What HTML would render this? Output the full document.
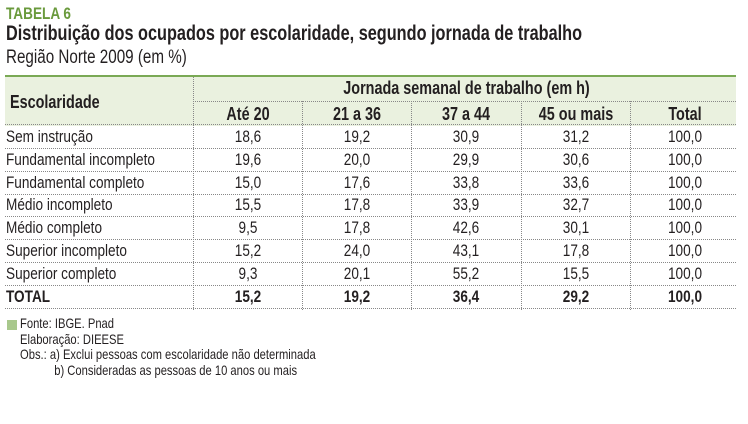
<!DOCTYPE html>
<html><head><meta charset="utf-8"><style>
body{margin:0;width:748px;height:424px;background:#fff;position:relative;overflow:hidden;font-family:"Liberation Sans",sans-serif;color:#231f20}
.a{position:absolute;white-space:nowrap;transform:scaleX(0.8);transform-origin:0 0}
.hl{position:absolute;border-top:1px dotted #888;height:0}
.vl{position:absolute;border-left:1px dotted #888;width:0}
.c{position:absolute;width:110px;text-align:center;font-size:17px;white-space:nowrap;transform:scaleX(0.8);transform-origin:50% 0}
</style></head><body>
<div class="a" style="left:6px;top:4px;font-size:17px;font-weight:bold;color:#6a9a3c">TABELA 6</div>
<div class="a" style="left:6px;top:22px;font-size:21px;font-weight:bold;transform:scaleX(0.775)">Distribuição dos ocupados por escolaridade, segundo jornada de trabalho</div>
<div class="a" style="left:6px;top:47px;font-size:19px">Região Norte 2009 (em %)</div>
<div style="position:absolute;left:5px;top:75px;width:731px;height:49px;background:#eaf1df;border-top:2px solid #7aa955"></div>
<div class="a" style="left:10px;top:92px;font-size:18px;font-weight:bold">Escolaridade</div>
<div class="c" style="left:193px;width:547px;top:78px;font-size:18px;font-weight:bold">Jornada semanal de trabalho (em h)</div>
<div class="hl" style="left:193px;width:543px;top:101px"></div>
<div class="vl" style="left:193px;top:77px;height:233px"></div>
<div class="vl" style="left:302px;top:101px;height:209px"></div>
<div class="vl" style="left:411px;top:101px;height:209px"></div>
<div class="vl" style="left:521px;top:101px;height:209px"></div>
<div class="vl" style="left:630px;top:101px;height:209px"></div>
<div id="rows"></div>
<div style="position:absolute;left:7px;top:320px;width:10px;height:10px;background:#a8c88c"></div>
<div class="a" style="left:20px;top:316px;font-size:14px;line-height:15.5px">Fonte: IBGE. Pnad<br>Elaboração: DIEESE<br>Obs.: a) Exclui pessoas com escolaridade não determinada<br>&nbsp;&nbsp;&nbsp;&nbsp;&nbsp;&nbsp;&nbsp;&nbsp;&nbsp;&nbsp;&nbsp;b) Consideradas as pessoas de 10 anos ou mais</div>
<script>
var rows=[["Sem instrução","18,6","19,2","30,9","31,2","100,0"],["Fundamental incompleto","19,6","20,0","29,9","30,6","100,0"],["Fundamental completo","15,0","17,6","33,8","33,6","100,0"],["Médio incompleto","15,5","17,8","33,9","32,7","100,0"],["Médio completo","9,5","17,8","42,6","30,1","100,0"],["Superior incompleto","15,2","24,0","43,1","17,8","100,0"],["Superior completo","9,3","20,1","55,2","15,5","100,0"],["TOTAL","15,2","19,2","36,4","29,2","100,0"]];
var xs=[193,302,411,521,630],h='';
['Até 20','21 a 36','37 a 44','45 ou mais','Total'].forEach(function(t,i){h+='<div class="c" style="left:'+xs[i]+'px;top:104px;font-weight:bold;font-size:18px">'+t+'</div>'});
h+='<div class="hl" style="left:5px;width:731px;top:124px"></div>';
rows.forEach(function(r,j){var y=127+j*22.8,b=j==7?'font-weight:bold;':'';
h+='<div class="a" style="left:6px;top:'+y+'px;font-size:17px;'+b+'">'+r[0]+'</div>';
for(var i=1;i<6;i++)h+='<div class="c" style="left:'+xs[i-1]+'px;top:'+y+'px;'+b+'">'+r[i]+'</div>';
h+='<div class="hl" style="left:5px;width:731px;top:'+(126+j*22.8+22)+'px"></div>';});
document.getElementById('rows').innerHTML=h;
</script>
</body></html>
